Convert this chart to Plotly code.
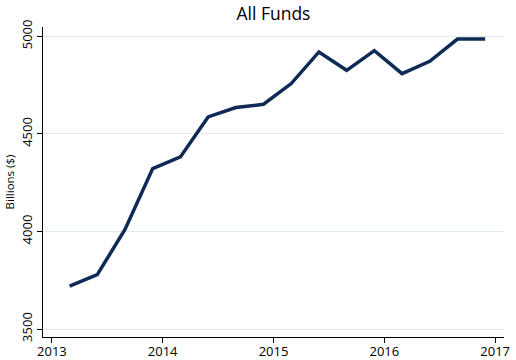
import plotly.graph_objects as go

# Quarterly observations (decimal year) and values in billions of dollars
dates = [2013.16, 2013.41, 2013.66, 2013.91, 2014.16, 2014.41, 2014.66, 2014.91,
         2015.16, 2015.41, 2015.66, 2015.91, 2016.16, 2016.41, 2016.66, 2016.91]
values = [3720, 3779, 4010, 4322, 4382, 4587, 4635, 4652,
          4758, 4920, 4826, 4927, 4809, 4872, 4986, 4986]

x_ticks = [2013, 2014, 2015, 2016, 2017]
y_ticks = [3500, 4000, 4500, 5000]

fig = go.Figure()
fig.add_trace(go.Scatter(
    x=dates, y=values, mode="lines",
    line=dict(color="#0f2a55", width=3.5),
    showlegend=False,
))

font_family = "Open Sans, Noto Sans, DejaVu Sans, sans-serif"

fig.update_layout(
    width=516, height=360,
    margin=dict(l=43, r=12, t=27, b=23, autoexpand=False),
    paper_bgcolor="white", plot_bgcolor="white",
    font=dict(family=font_family, color="black", size=12),
    title=dict(text="All Funds", x=0.53, xanchor="center", y=0.962, yanchor="middle",
               font=dict(size=17.5, color="black", family=font_family)),
)
fig.update_xaxes(
    range=[2012.92, 2017.08], automargin=False,
    tickmode="array", tickvals=x_ticks, ticktext=[str(t) for t in x_ticks],
    showgrid=False, zeroline=False,
    showline=True, linecolor="black", linewidth=1.2,
    ticks="outside", ticklen=5, tickcolor="black", tickwidth=1,
    tickfont=dict(size=13), ticklabelstandoff=-3,
)
fig.update_yaxes(
    range=[3459, 5048], automargin=False,
    tickmode="array", tickvals=y_ticks, ticktext=[str(t) for t in y_ticks],
    tickangle=-90,
    showgrid=True, gridcolor="#e2ebec", gridwidth=1,
    zeroline=False,
    showline=True, linecolor="black", linewidth=1.2,
    ticks="outside", ticklen=5, tickcolor="black", tickwidth=1,
    tickfont=dict(size=13),
    title=dict(text="Billions ($)", font=dict(size=11.5), standoff=0),
)

fig.write_html("out.html", config={"displayModeBar": False},
               post_script="document.body.style.margin='0';")
